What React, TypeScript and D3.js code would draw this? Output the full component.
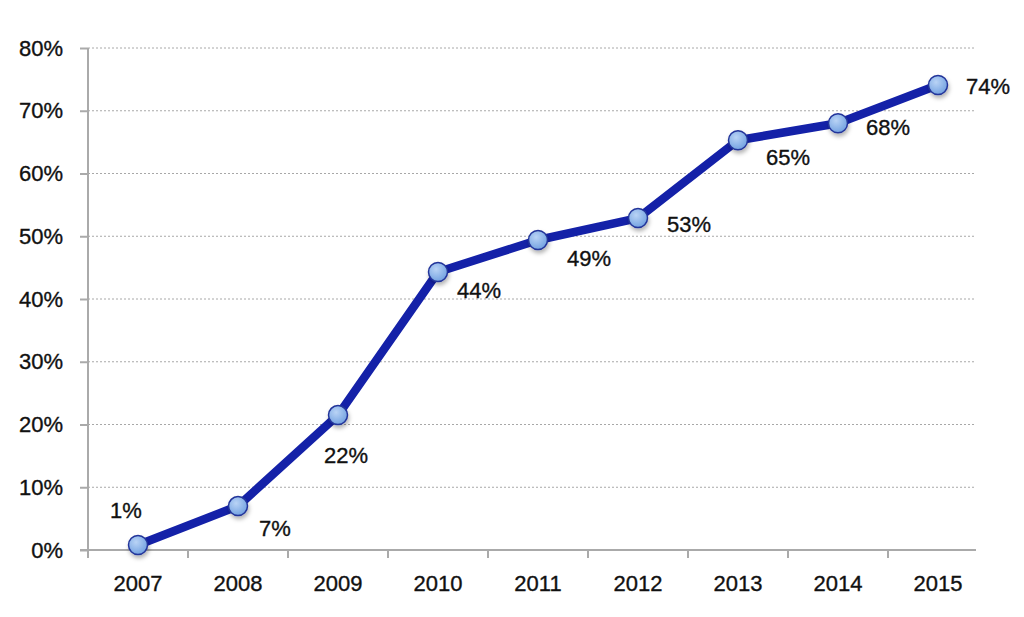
import React, { useEffect, useRef } from 'react';
import * as d3 from 'd3';

const years = ['2007', '2008', '2009', '2010', '2011', '2012', '2013', '2014', '2015'];
const shares = [0.8, 7.0, 21.5, 44.3, 49.4, 52.9, 65.3, 68.0, 74.1];
const valueLabels = ['1%', '7%', '22%', '44%', '49%', '53%', '65%', '68%', '74%'];
const yTicks = [0, 10, 20, 30, 40, 50, 60, 70, 80];
// label placement relative to each point (dx, dy of text centre)
const labelOffsets: [number, number][] = [
  [-12, -35], [37, 22], [8, 40], [41, 18], [51, 18], [51, 6], [50, 17], [50, 4], [50, 1],
];

const W = 1024;
const H = 617;
const FONT = 'Liberation Sans, Arial, sans-serif';

const App = () => {
  const ref = useRef<SVGSVGElement>(null);

  useEffect(() => {
    const svg = d3.select(ref.current);
    svg.selectAll('*').remove();

    const left = 88;
    const right = 976;
    const top = 48;
    const bottom = 550;

    const x = d3.scaleBand().domain(years).range([left, left + 900]);
    const y = d3.scaleLinear().domain([0, 80]).range([bottom, top]);
    const cx = (d: string) => (x(d) || 0) + x.bandwidth() / 2;

    const defs = svg.append('defs');
    const grad = defs.append('radialGradient').attr('id', 'dot').attr('cx', '40%').attr('cy', '35%').attr('r', '70%');
    grad.append('stop').attr('offset', '0%').attr('stop-color', '#b9d3f5');
    grad.append('stop').attr('offset', '100%').attr('stop-color', '#6f9fe0');
    const shadow = defs.append('filter').attr('id', 'shadow').attr('x', '-50%').attr('y', '-50%').attr('width', '200%').attr('height', '200%');
    shadow.append('feDropShadow').attr('dx', 1).attr('dy', 3).attr('stdDeviation', 2).attr('flood-color', '#000').attr('flood-opacity', 0.3);

    const styleText = (sel: any) =>
      sel.attr('fill', '#111')
        .attr('stroke', '#111')
        .attr('stroke-width', 0.35)
        .style('font-size', '22px')
        .style('font-family', FONT);

    // gridlines
    svg.append('g')
      .selectAll('line')
      .data(yTicks.filter((t) => t > 0))
      .enter()
      .append('line')
      .attr('x1', left)
      .attr('x2', right)
      .attr('y1', (d) => y(d))
      .attr('y2', (d) => y(d))
      .attr('stroke', '#a8a8a8')
      .attr('stroke-width', 1)
      .attr('stroke-dasharray', '2,2');

    // y axis
    const yAxis = svg.append('g').attr('transform', `translate(${left},0)`)
      .call(d3.axisLeft(y).tickValues(yTicks).tickSize(8).tickPadding(17).tickFormat((d) => `${d}%`));
    yAxis.select('.domain').remove();
    yAxis.selectAll('.tick line').attr('stroke', '#aaa').attr('stroke-width', 2);
    styleText(yAxis.selectAll('.tick text'));
    svg.append('line').attr('x1', left).attr('x2', left).attr('y1', top).attr('y2', bottom)
      .attr('stroke', '#aaa').attr('stroke-width', 2);

    // x axis
    svg.append('line').attr('x1', left - 8).attr('x2', right).attr('y1', bottom).attr('y2', bottom)
      .attr('stroke', '#aaa').attr('stroke-width', 2);
    svg.append('g')
      .selectAll('line')
      .data(years)
      .enter()
      .append('line')
      .attr('x1', (d) => x(d) || 0)
      .attr('x2', (d) => x(d) || 0)
      .attr('y1', bottom)
      .attr('y2', bottom + 8)
      .attr('stroke', '#aaa')
      .attr('stroke-width', 2);
    styleText(svg.append('g')
      .selectAll('text')
      .data(years)
      .enter()
      .append('text')
      .attr('x', cx)
      .attr('y', bottom + 41)
      .attr('text-anchor', 'middle'))
      .text((d: string) => d);

    // line
    const line = d3.line<number>().x((_, i) => cx(years[i])).y((d) => y(d));
    svg.append('path')
      .datum(shares)
      .attr('d', line)
      .attr('fill', 'none')
      .attr('stroke', '#1421a8')
      .attr('stroke-width', 8.5)
      .attr('stroke-linejoin', 'round');

    svg.append('g')
      .selectAll('circle')
      .data(shares)
      .enter()
      .append('circle')
      .attr('cx', (_, i) => cx(years[i]))
      .attr('cy', (d) => y(d))
      .attr('r', 9.5)
      .attr('fill', 'url(#dot)')
      .attr('stroke', '#23349a')
      .attr('stroke-width', 1.5)
      .attr('filter', 'url(#shadow)');

    styleText(svg.append('g')
      .selectAll('text')
      .data(shares)
      .enter()
      .append('text')
      .attr('x', (_: number, i: number) => cx(years[i]) + labelOffsets[i][0])
      .attr('y', (d: number, i: number) => y(d) + labelOffsets[i][1])
      .attr('dy', '0.35em')
      .attr('text-anchor', 'middle'))
      .text((_: number, i: number) => valueLabels[i]);
  }, []);

  return <svg ref={ref} width={W} height={H} style={{ display: 'block', margin: -8, background: '#fff' }} />;
};

export default App;
